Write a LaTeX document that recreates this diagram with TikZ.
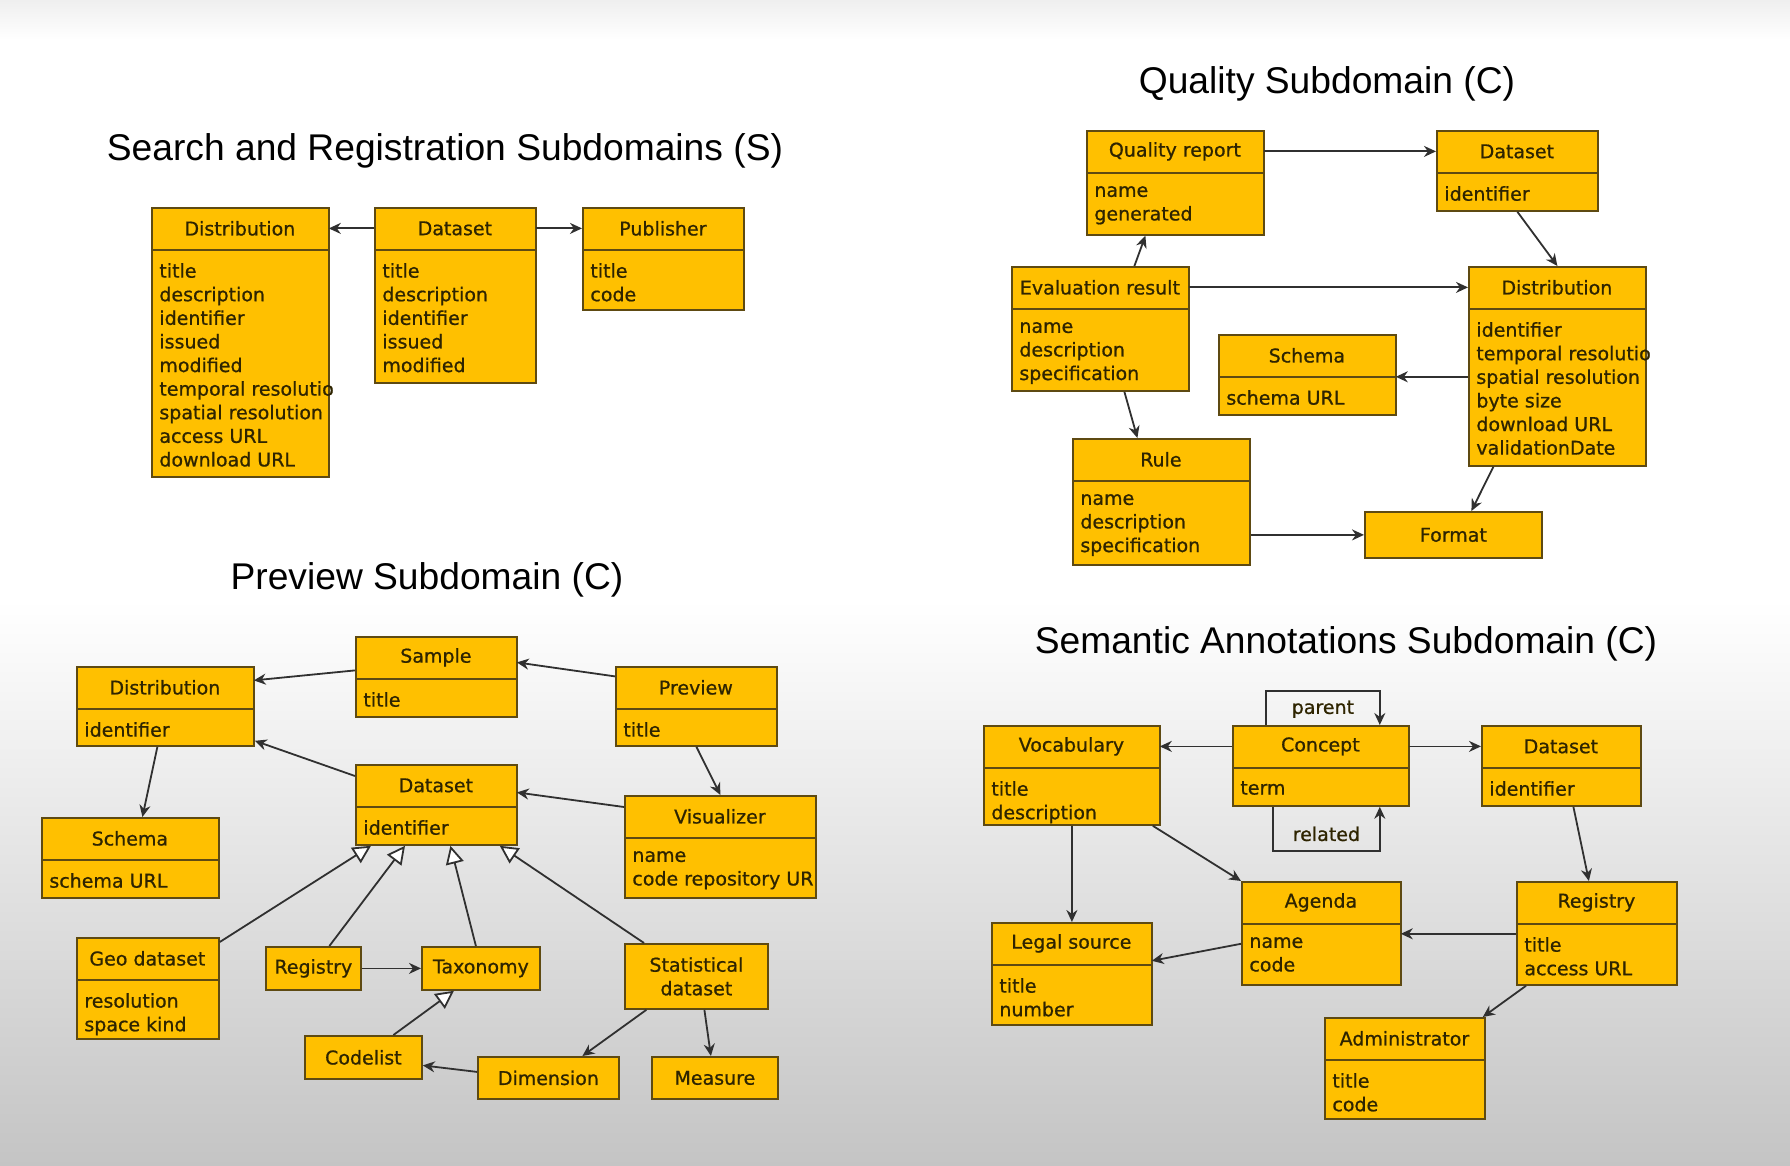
\documentclass[tikz,border=0pt]{standalone}
\usepackage{fontspec}
\usepackage{tikz}
\usetikzlibrary{arrows.meta,calc}
\newfontfamily\boxfamily[FakeBold=0.8]{DejaVu Sans}
\newfontfamily\titlefamily{Liberation Sans}
\definecolor{boxfill}{HTML}{FFC000}
\definecolor{boxline}{HTML}{5E4A12}
\definecolor{boxtext}{HTML}{2E2400}
\definecolor{arrowline}{HTML}{303030}
\definecolor{bggray}{HTML}{C4C4C4}
\definecolor{topgray}{HTML}{EFEFEF}
\newcommand{\boxfont}{\boxfamily\fontsize{9.5}{11.8}\selectfont\color{boxtext}}
\tikzset{umlbox/.style={draw=boxline,fill=boxfill,line width=0.9pt,inner sep=0pt,anchor=north west,
 font=\boxfont,align=center},
 umlhead/.style={inner sep=0pt,minimum height=21pt,anchor=north west,font=\boxfont},
 umlattr/.style={inner xsep=4pt,inner ysep=6.5pt,anchor=north west,align=left,font=\boxfont},
 umlarrow/.style={-{Stealth[length=6pt,width=5.5pt]},draw=arrowline,line width=0.9pt},
 umlgen/.style={-{Triangle[open,length=9pt,width=9pt,fill=white]},draw=arrowline,line width=0.9pt},
 sectiontitle/.style={font=\titlefamily\fontsize{18.6}{22}\selectfont}}
\newcommand{\umlclass}[6]{%
 \node[umlbox,minimum width=#3*0.5pt,minimum height=#4*0.5pt] (#1) at (#2) {};
 \node[umlhead,minimum width=#3*0.5pt] (#1-head) at (#1.north west) {#5};
 \draw[draw=boxline,line width=0.9pt] (#1-head.south west)--(#1-head.south east);
 \node[umlattr] (#1-attr) at (#1-head.south west) {#6};}

\begin{document}
\begin{tikzpicture}[x=0.5pt,y=-0.5pt]
\fill[white] (0,0) rectangle (1790,1166);
\shade[top color=topgray,bottom color=white] (0,0) rectangle (1790,40);
\shade[top color=white,bottom color=bggray] (0,600) rectangle (1790,1166);
\useasboundingbox (0,0) rectangle (1790,1166);

\node[sectiontitle] (stitle) at (445,151) {Search and Registration Subdomains (S)};
\umlclass{sdist}{151,207}{177}{269}{Distribution}{title\\description\\identifier\\issued\\modified\\temporal resolutio\\spatial resolution\\access URL\\download URL}
\umlclass{sdata}{374,207}{161}{175}{Dataset}{title\\description\\identifier\\issued\\modified}
\umlclass{spub}{582,207}{161}{102}{Publisher}{title\\code}
\draw[umlarrow] (sdata-head.west)--(sdist-head.east);
\draw[umlarrow] (sdata-head.east)--(spub-head.west);

\node[sectiontitle] (qtitle) at (1327,84) {Quality Subdomain (C)};
\umlclass{qr}{1086,130}{177}{104}{Quality report}{name\\generated}
\umlclass{qdata}{1436,130}{161}{80}{Dataset}{identifier}
\umlclass{eval}{1011,266}{177}{124}{Evaluation result}{name\\description\\specification}
\umlclass{qdist}{1468,266}{177}{199}{Distribution}{identifier\\temporal resolutio\\spatial resolution\\byte size\\download URL\\validationDate}
\umlclass{qschema}{1218,334}{177}{80}{Schema}{schema URL}
\umlclass{rule}{1072,438}{177}{126}{Rule}{name\\description\\specification}
\node[umlbox,minimum width=177*0.5pt,minimum height=46*0.5pt] (format) at (1364,511) {Format};
\draw[umlarrow] (qr-head.east)--(qdata-head.west);
\draw[umlarrow] (qdata.south)--(qdist.north);
\draw[umlarrow] ([xshift=17pt]eval.north)--([xshift=-15pt]qr.south);
\draw[umlarrow] (eval-head.east)--(qdist-head.west);
\draw[umlarrow] (qdist.west |- qschema-head.south)--(qschema-head.south east);
\draw[umlarrow] ([xshift=12pt]eval.south)--([xshift=-12pt]rule.north);
\draw[umlarrow] (rule.east |- format.west)--(format.west);
\draw[umlarrow] ([xshift=-32pt]qdist.south)--([xshift=9pt]format.north);

\node[sectiontitle] (ptitle) at (427,580) {Preview Subdomain (C)};
\umlclass{sample}{355,636}{161}{80}{Sample}{title}
\umlclass{pdist}{76,666}{177}{79}{Distribution}{identifier}
\umlclass{preview}{615,666}{161}{79}{Preview}{title}
\umlclass{pdata}{355,764}{161}{80}{Dataset}{identifier}
\umlclass{vis}{624,795}{191}{102}{Visualizer}{name\\code repository UR}
\umlclass{pschema}{41,817}{177}{80}{Schema}{schema URL}
\umlclass{geo}{76,937}{142}{101}{Geo dataset}{resolution\\space kind}
\node[umlbox,minimum width=95*0.5pt,minimum height=43*0.5pt] (preg) at (265,946) {Registry};
\node[umlbox,minimum width=118*0.5pt,minimum height=43*0.5pt] (tax) at (421,946) {Taxonomy};
\node[umlbox,minimum width=143*0.5pt,minimum height=65*0.5pt] (stat) at (624,943) {Statistical\\dataset};
\node[umlbox,minimum width=117*0.5pt,minimum height=43*0.5pt] (codelist) at (304,1035) {Codelist};
\node[umlbox,minimum width=141*0.5pt,minimum height=42*0.5pt] (dim) at (477,1056) {Dimension};
\node[umlbox,minimum width=126*0.5pt,minimum height=42*0.5pt] (measure) at (651,1056) {Measure};
\draw[umlarrow] ([yshift=-6.5pt]sample-head.west)--([yshift=3.5pt]pdist-head.east);
\draw[umlarrow] ([yshift=5.5pt]preview-head.west)--([yshift=-2.5pt]sample-head.east);
\draw[umlarrow] ([yshift=-6pt]pdata.north west)--([yshift=3pt]pdist.south east);
\draw[umlarrow] ([yshift=-6pt]vis.north west)--([yshift=-3.5pt]pdata-head.east);
\draw[umlarrow] (preview.south)--(vis.north);
\draw[umlarrow] ([xshift=-4pt]pdist.south)--([xshift=6pt]pschema.north);
\draw[umlgen] ([yshift=-2.5pt]geo.north east)--([xshift=8pt]pdata.south west);
\draw[umlgen] ([xshift=8pt]preg.north)--([xshift=25pt]pdata.south west);
\draw[umlgen] ([xshift=-2.5pt]tax.north)--([xshift=7pt]pdata.south);
\draw[umlgen] ([xshift=10pt]stat.north west)--([xshift=-9pt]pdata.south east);
\draw[umlgen] ([xshift=15pt]codelist.north)--([xshift=-13.5pt]tax.south);
\draw[umlarrow] (preg.east)--(tax.west);
\draw[umlarrow] ([xshift=-25pt]stat.south)--([xshift=17pt]dim.north);
\draw[umlarrow] ([xshift=4pt]stat.south)--([xshift=-2pt]measure.north);
\draw[umlarrow] ([yshift=3pt]dim.west)--([yshift=-4pt]codelist.east);

\node[sectiontitle] (atitle) at (1346,644) {Semantic Annotations Subdomain (C)};
\umlclass{vocab}{983,725}{176}{99}{Vocabulary}{title\\description}
\umlclass{concept}{1232,725}{176}{80}{Concept}{term}
\umlclass{adata}{1481,725}{159}{80}{Dataset}{identifier}
\umlclass{agenda}{1241,881}{159}{103}{Agenda}{name\\code}
\umlclass{areg}{1516,881}{160}{103}{Registry}{title\\access URL}
\umlclass{legal}{991,922}{160}{102}{Legal source}{title\\number}
\umlclass{admin}{1324,1017}{160}{101}{Administrator}{title\\code}
\draw[umlarrow] (concept-head.west)--(vocab-head.east);
\draw[umlarrow] (concept-head.east)--(adata-head.west);
\draw[umlarrow] ([xshift=17pt]concept.north west)--++(0,-34)-|node[pos=0.25,below=1pt,font=\boxfont]{parent}([xshift=-15pt]concept.north east);
\draw[umlarrow] ([xshift=20.5pt]concept.south west)--++(0,44)-|node[pos=0.25,above=1pt,font=\boxfont]{related}([xshift=-15pt]concept.south east);
\draw[umlarrow] (vocab.south)--(legal.north);
\draw[umlarrow] ([xshift=-4pt]vocab.south east)--(agenda.north west);
\draw[umlarrow] ([xshift=6pt]adata.south)--([xshift=-4pt]areg.north);
\draw[umlarrow] ([yshift=-5pt]areg-head.south west)--([yshift=-5pt]agenda-head.south east);
\draw[umlarrow] ([yshift=-10pt]agenda-head.south west)--([yshift=2pt]legal-head.south east);
\draw[umlarrow] ([xshift=5pt]areg.south west)--([xshift=-1.5pt]admin.north east);
\end{tikzpicture}
\end{document}
